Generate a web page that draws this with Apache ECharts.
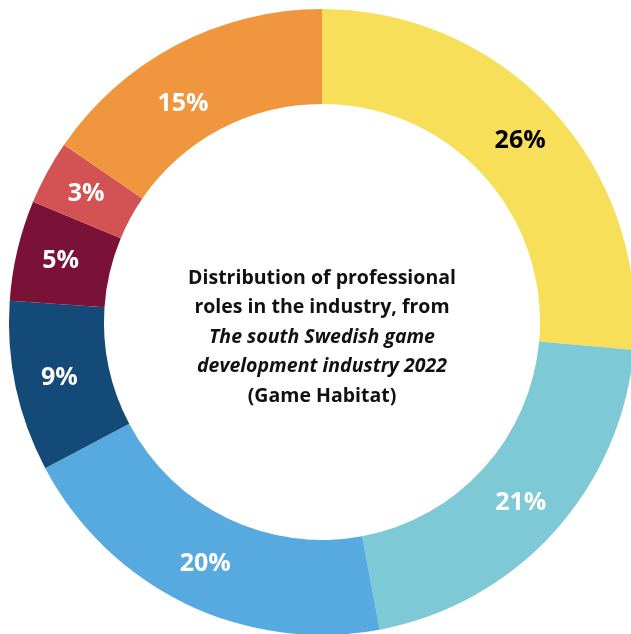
<!DOCTYPE html>
<html>
<head>
<meta charset="utf-8">
<script src="https://cdn.jsdelivr.net/npm/echarts@6/dist/echarts.min.js"></script>
<style>
html,body{margin:0;padding:0;background:#fff;}
#chart{width:631px;height:634px;}
</style>
</head>
<body>
<div id="chart"></div>
<script>
// Shares of professional roles (%), clockwise from top
const categories = ['A', 'B', 'C', 'D', 'E', 'F', 'G'];
const shares = [26.4, 20.6, 20.2, 8.8, 5.2, 3.3, 15.4];
const colors = ['#F7DF5A', '#7DC9D5', '#57AADF', '#134A78', '#7A1238', '#D35355', '#F0963E'];
const labelColors = ['#000000', '#ffffff', '#ffffff', '#ffffff', '#ffffff', '#ffffff', '#ffffff'];
const centerLines = [
  ['b', 'Distribution of professional'],
  ['b', 'roles in the industry, from'],
  ['i', 'The south Swedish game'],
  ['i', 'development industry 2022'],
  ['b', '(Game Habitat)']
];

const chart = echarts.init(document.getElementById('chart'), null, {renderer: 'canvas'});
const data = categories.map((c, i) => ({
  name: c,
  value: shares[i],
  itemStyle: {color: colors[i]},
  label: i === 6 ? {color: labelColors[i], offset: [-14, 19]} : {color: labelColors[i]}
}));

chart.setOption({
  animation: false,
  backgroundColor: '#ffffff',
  series: [{
    type: 'pie',
    center: [322, 322],
    radius: [218, 313],
    startAngle: 90,
    clockwise: true,
    avoidLabelOverlap: false,
    silent: true,
    data: data,
    itemStyle: {borderWidth: 0},
    label: {
      show: true,
      position: 'inside',
      fontFamily: 'Open Sans',
      fontWeight: 'bold',
      fontSize: 25,
      formatter: p => Math.round(p.value) + '%'
    },
    labelLine: {show: false}
  }],
  graphic: [{
    type: 'text',
    x: 322,
    y: 337,
    style: {
      text: centerLines.map(l => '{' + l[0] + '|' + l[1] + '}').join('\n'),
      align: 'center',
      verticalAlign: 'middle',
      fill: '#000',
      rich: {
        b: {fontFamily: 'Open Sans', fontWeight: 'bold', fontSize: 19.5, lineHeight: 29.5, fill: '#111', align: 'center'},
        i: {fontFamily: 'Open Sans', fontWeight: 'bold', fontStyle: 'italic', fontSize: 19.5, lineHeight: 29.5, fill: '#111', align: 'center'}
      }
    }
  }]
});
</script>
</body>
</html>
